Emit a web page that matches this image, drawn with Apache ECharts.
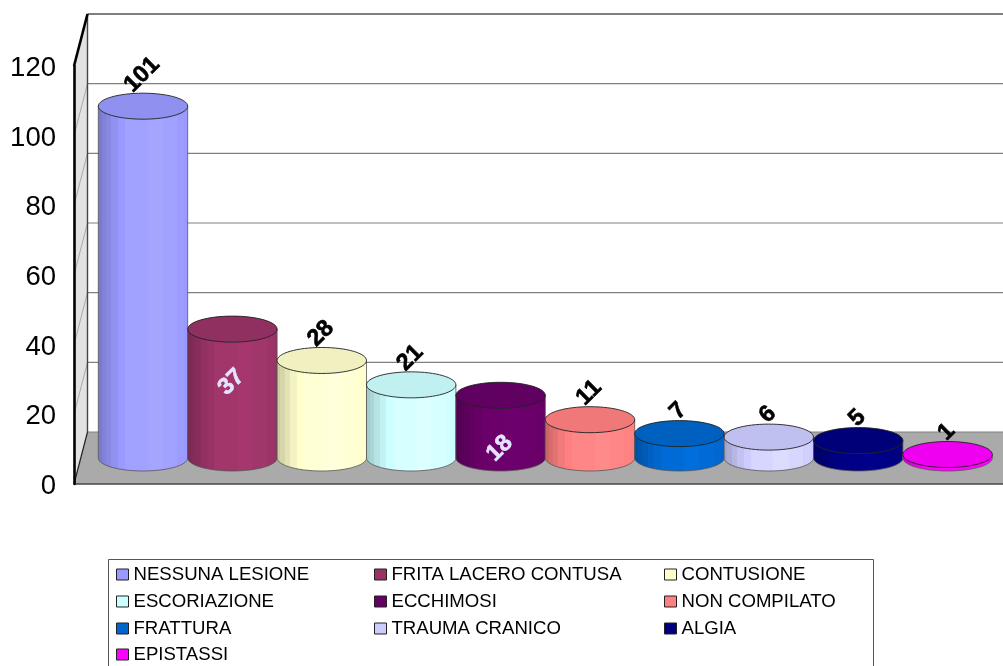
<!DOCTYPE html>
<html>
<head>
<meta charset="utf-8">
<style>html,body{margin:0;padding:0;background:#fff}#chart{width:1003px;height:666px;overflow:hidden}</style>
<script src="https://cdn.jsdelivr.net/npm/echarts@6/dist/echarts.min.js"></script>
</head>
<body>
<div id="chart"></div>
<script>
// Injury types and how many cases were recorded for each
const categories = ['NESSUNA LESIONE', 'FRITA LACERO CONTUSA', 'CONTUSIONE', 'ESCORIAZIONE', 'ECCHIMOSI',
  'NON COMPILATO', 'FRATTURA', 'TRAUMA CRANICO', 'ALGIA', 'EPISTASSI'];
const cases = [101, 37, 28, 21, 18, 11, 7, 6, 5, 1];
const colours = ['#9999FF', '#993366', '#FFFFCC', '#CCFFFF', '#660066', '#FF8080', '#0066CC', '#CCCCFF', '#000080', '#FF00FF'];
const yTicks = [0, 20, 40, 60, 80, 100, 120];
const labelsInsideBar = ['FRITA LACERO CONTUSA', 'ECCHIMOSI'];

// Legend columns, read top to bottom; the last entry sits alone under the first column
const legendColumns = [
  ['NESSUNA LESIONE', 'ESCORIAZIONE', 'FRATTURA'],
  ['FRITA LACERO CONTUSA', 'ECCHIMOSI', 'TRAUMA CRANICO'],
  ['CONTUSIONE', 'NON COMPILATO', 'ALGIA'],
  ['EPISTASSI']
];
const legendLeft = [116, 374, 664, 116];
const legendTop = [564, 564, 564, 644];

// Pseudo-3D box: how far the back wall sits from the front plane
const DEPTH_X = 13.5, DEPTH_Y = -52;
const RIGHT_EDGE = 1010;
// Half height of the cylinders' end ellipses
const RY = 13;

function hexToRgb(h) {
  return [1, 3, 5].map(i => parseInt(h.substr(i, 2), 16));
}
function shade(hex, f) {
  const c = hexToRgb(hex).map(v => Math.min(255, v * f));
  return 'rgb(' + c.map(Math.round).join(',') + ')';
}
// Horizontal banded shading of a cylinder body
function bodyFill(hex) {
  const knots = [[0, 0.8], [0.04, 0.84], [0.09, 0.89], [0.15, 0.95], [0.22, 1.0], [0.3, 1.05], [0.55, 1.08], [0.72, 1.05], [0.88, 1.02], [0.96, 1.0], [1, 1.0]];
  const stops = [];
  knots.forEach((k, i) => {
    if (i === knots.length - 1) return;
    const col = shade(hex, k[1]);
    stops.push({ offset: k[0], color: col }, { offset: knots[i + 1][0], color: col });
  });
  return { type: 'linear', x: 0, y: 0, x2: 1, y2: 0, colorStops: stops };
}

function renderFrame(params, api) {
  const yAt = v => api.coord([0, v])[1];
  const x0 = params.coordSys.x;
  const xb = x0 + DEPTH_X;
  const children = [];
  const top = yAt(yTicks[yTicks.length - 1]), bottom = yAt(0);
  // side wall
  children.push({ type: 'polygon', shape: { points: [[x0, bottom], [xb, bottom + DEPTH_Y], [xb, top + DEPTH_Y], [x0, top]] },
    style: { fill: '#e2e2e2', stroke: null } });
  // floor
  children.push({ type: 'polygon', shape: { points: [[x0, bottom], [RIGHT_EDGE, bottom], [RIGHT_EDGE, bottom + DEPTH_Y], [xb, bottom + DEPTH_Y]] },
    style: { fill: '#aaaaaa', stroke: null } });
  // grid lines across the back wall and down the side wall
  yTicks.forEach(v => {
    const y = yAt(v);
    if (v > 0) {
      children.push({ type: 'line', shape: { x1: xb, y1: y + DEPTH_Y, x2: RIGHT_EDGE, y2: y + DEPTH_Y },
        style: { stroke: v === 120 ? '#555' : '#808080', lineWidth: v === 120 ? 1.4 : 1.2 } });
      if (v < 120) children.push({ type: 'line', shape: { x1: x0, y1: y, x2: xb, y2: y + DEPTH_Y }, style: { stroke: '#999', lineWidth: 0.8 } });
    } else {
      children.push({ type: 'line', shape: { x1: xb, y1: y + DEPTH_Y, x2: RIGHT_EDGE, y2: y + DEPTH_Y }, style: { stroke: '#808080', lineWidth: 1 } });
      children.push({ type: 'line', shape: { x1: x0, y1: y, x2: RIGHT_EDGE, y2: y }, style: { stroke: '#444', lineWidth: 1.4 } });
      children.push({ type: 'line', shape: { x1: x0, y1: y, x2: xb, y2: y + DEPTH_Y }, style: { stroke: '#222', lineWidth: 1.2 } });
    }
  });
  // back corner and the thick top edge of the side wall
  children.push({ type: 'line', shape: { x1: xb, y1: top + DEPTH_Y, x2: xb, y2: bottom + DEPTH_Y }, style: { stroke: '#444', lineWidth: 1.4 } });
  children.push({ type: 'line', shape: { x1: x0, y1: top, x2: xb, y2: top + DEPTH_Y }, style: { stroke: '#000', lineWidth: 2.6 } });
  return { type: 'group', children: children };
}

function renderCylinder(params, api) {
  const name = categories[api.value(0)];
  const value = api.value(1);
  const colour = colours[api.value(0)];
  const base = api.coord([api.value(0), 0]);
  const head = api.coord([api.value(0), value]);
  const cx = base[0];
  const yBase = base[1], yTop = head[1];
  const rx = api.size([1, 0])[0] / 2;

  // outline of the body: down the left side, round the lower half of the base, up the right side
  const pts = [[cx - rx, yTop]];
  for (let a = 180; a >= 0; a -= 6) {
    const r = a * Math.PI / 180;
    pts.push([cx + rx * Math.cos(r), yBase + RY * Math.sin(r)]);
  }
  pts.push([cx + rx, yTop]);

  const inside = labelsInsideBar.includes(name);
  const text = String(value);
  const rise = (text.length * 12.4 / 2 + 8) * Math.SQRT1_2;
  return {
    type: 'group',
    children: [
      { type: 'polygon', shape: { points: pts }, style: { fill: bodyFill(colour), stroke: '#555', lineWidth: 0.8 } },
      { type: 'ellipse', shape: { cx: cx, cy: yTop, rx: rx, ry: RY }, style: { fill: shade(colour, 0.94), stroke: '#222', lineWidth: 0.9 } },
      {
        type: 'text',
        x: cx - 1,
        y: inside ? yTop + 53 : yTop - RY - rise + 0.5,
        rotation: Math.PI / 4,
        style: {
          text: text, x: 0, y: 0, align: 'center', verticalAlign: 'middle',
          fill: inside ? '#e4e4ff' : '#000',
          stroke: inside ? '#e4e4ff' : '#000', lineWidth: 0.6,
          font: 'bold 23.5px "Liberation Sans", Arial, sans-serif'
        }
      }
    ]
  };
}

const series = [{
  type: 'custom', xAxisIndex: 0, yAxisIndex: 0, silent: true, clip: false, z: 1,
  renderItem: renderFrame, data: [[0, 0]]
}].concat(categories.map((name, i) => ({
  type: 'custom', name: name, xAxisIndex: 1, yAxisIndex: 1, clip: false, z: 2 + i, silent: true,
  itemStyle: { color: colours[i] },
  encode: { x: 0, y: 1 },
  renderItem: renderCylinder,
  data: [[i, cases[i]]]
})));

const chart = echarts.init(document.getElementById('chart'), null, { renderer: 'canvas' });
chart.setOption({
  animation: false,
  backgroundColor: '#fff',
  grid: [
    { left: 74, top: 66, width: 929, height: 418 },
    { left: 98.3, top: 40, width: 894, height: 418 }
  ],
  xAxis: [
    { type: 'value', gridIndex: 0, min: 0, max: 1, show: false },
    { type: 'category', gridIndex: 1, data: categories.map((c, i) => i), show: false, boundaryGap: true }
  ],
  yAxis: [
    {
      type: 'value', gridIndex: 0, min: 0, max: 120, interval: 20, position: 'left',
      axisLine: { show: true, lineStyle: { color: '#000', width: 2.6 } },
      axisTick: { show: false }, splitLine: { show: false },
      axisLabel: { color: '#000', fontSize: 27.5, margin: 18, verticalAlign: 'top', lineHeight: 5, fontFamily: '"Liberation Sans", Arial, sans-serif' },
      z: 5
    },
    { type: 'value', gridIndex: 1, min: 0, max: 120, show: false, splitLine: { show: false } }
  ],
  legend: legendColumns.map((col, i) => ({
    data: col, orient: 'vertical', left: legendLeft[i], top: legendTop[i], padding: 0,
    itemWidth: 12, itemHeight: 11, itemGap: 6, icon: 'rect', selectedMode: false,
    itemStyle: { borderColor: '#222', borderWidth: 1 },
    textStyle: { color: '#000', fontSize: 18.6, lineHeight: 21, fontFamily: '"Liberation Sans", Arial, sans-serif' }
  })),
  graphic: [{ type: 'rect', left: 108, top: 559, shape: { width: 765, height: 130 }, style: { fill: '#fff', stroke: '#555', lineWidth: 1 }, z: -1, silent: true }],
  series: series
});
</script>
</body>
</html>
